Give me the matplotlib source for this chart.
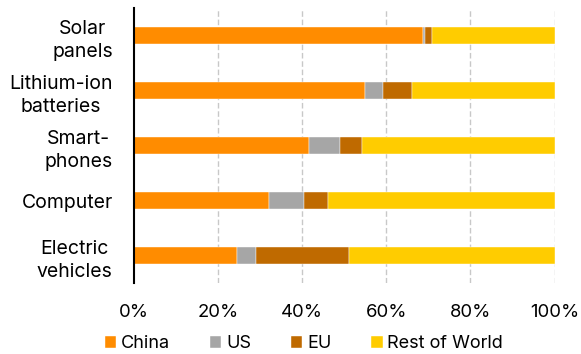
import matplotlib
matplotlib.use("Agg")
import matplotlib.pyplot as plt
import numpy as np

plt.rcParams['font.family'] = ['Inter', 'DejaVu Sans']

categories = ["Solar\npanels", "Lithium-ion\nbatteries", "Smart-\nphones", "Computer", "Electric\nvehicles"]
series = ["China", "US", "EU", "Rest of World"]
china = [68.8, 55.0, 41.6, 32.2, 24.6]
us = [0.3, 4.3, 7.5, 8.2, 4.4]
eu = [1.8, 6.8, 5.2, 5.8, 22.1]
rest = [29.1, 33.9, 45.7, 53.8, 48.9]
colors = ["#FF8C00", "#A6A6A6", "#BF6A00", "#FFCC00"]
xticks = [0, 20, 40, 60, 80, 100]
xticklabels = ["0%", "20%", "40%", "60%", "80%", "100%"]

fig = plt.figure(figsize=(5.81, 3.54), dpi=100)
ax = fig.add_axes([0.2301, 0.1997, 0.7246, 0.7777])

y = np.arange(len(categories))
left = np.zeros(len(categories))
for name, vals, col in zip(series, [china, us, eu, rest], colors):
    ax.barh(y, vals, left=left, height=0.31, color=col, label=name,
            edgecolor="white", linewidth=0.3, zorder=3)
    left += np.array(vals)

ax.set_xlim(0, 100)
ax.set_ylim(len(categories) - 0.5, -0.5)
ax.set_xticks(xticks)
ax.set_xticklabels(xticklabels, fontsize=13.3)
ax.set_yticks(y)
ax.set_yticklabels(categories, fontsize=14, multialignment="center", linespacing=1.4)
ax.tick_params(axis="both", length=0)
ax.tick_params(axis="x", pad=15)
ax.tick_params(axis="y", pad=15)

for x in xticks[1:]:
    ax.axvline(x, color="#C8C8C8", linestyle=(0, (4, 2)), linewidth=1, zorder=1)

for s in ["top", "right", "bottom"]:
    ax.spines[s].set_visible(False)
ax.spines["left"].set_linewidth(1.5)
ax.spines["left"].set_color("black")
ax.spines["left"].set_zorder(4)

fig.legend(loc="center", bbox_to_anchor=(0.523, 0.030), ncol=4, frameon=False,
           fontsize=13, handlelength=0.65, handleheight=0.65, handletextpad=0.25,
           columnspacing=2.2, borderpad=0)

fig.savefig("out.png", dpi=100)
